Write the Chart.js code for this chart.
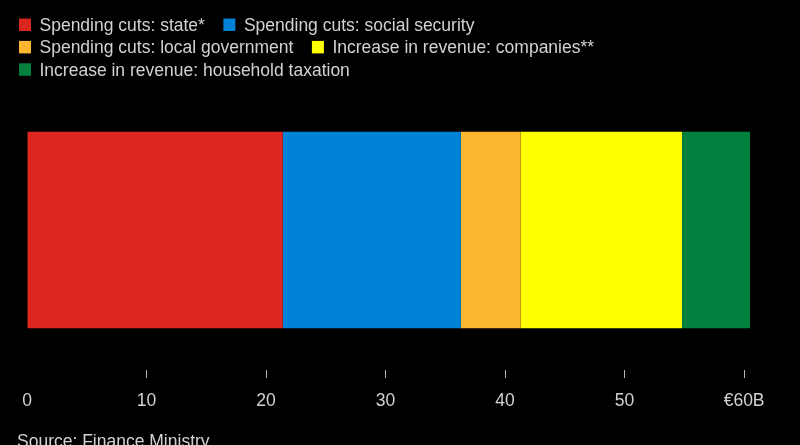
<!DOCTYPE html>
<html>
<head>
<meta charset="utf-8">
<script src="https://cdn.jsdelivr.net/npm/chart.js@4/dist/chart.umd.min.js"></script>
<style>
  html, body { margin: 0; padding: 0; background: #000; }
  #wrap { width: 800px; height: 445px; position: relative; background: #000; }
</style>
</head>
<body>
<div id="wrap"><canvas id="c" width="800" height="445"></canvas></div>
<script>
// ---- data ----
const categories = [''];
const seriesLabels = [
  'Spending cuts: state*',
  'Spending cuts: social security',
  'Spending cuts: local government',
  'Increase in revenue: companies**',
  'Increase in revenue: household taxation'
];
const seriesValues = [21.4, 14.9, 5.0, 13.5, 5.7]; // € billions
const seriesColors = ['#da261e', '#0082d6', '#fbb52f', '#ffff00', '#00813e'];
const tickValues = [0, 10, 20, 30, 40, 50, 60];
const sourceText = 'Source: Finance Ministry';

const FONT = '"Liberation Sans", Arial, sans-serif';
const TEXT_COLOR = '#d2d2d2';

// custom legend (wrapping rows like the original)
const legendPlugin = {
  id: 'customLegend',
  afterDraw(chart) {
    const ctx = chart.ctx;
    ctx.save();
    ctx.font = '17.5px ' + FONT;
    ctx.textBaseline = 'alphabetic';
    ctx.textAlign = 'left';
    const startX = 19, maxRight = 620, boxW = 12, boxH = 12.5, textOff = 20.5, gap = 18.5;
    let x = startX, baseline = 31;
    const rowStep = 22.4;
    chart.data.datasets.forEach((ds, i) => {
      const w = textOff + ctx.measureText(ds.label).width;
      if (i > 0 && x + w > maxRight) { x = startX; baseline += rowStep; }
      ctx.fillStyle = ds.backgroundColor;
      ctx.fillRect(x, baseline - boxH, boxW, boxH);
      ctx.fillStyle = TEXT_COLOR;
      ctx.fillText(ds.label, x + textOff, baseline);
      x += w + gap;
    });
    // source note
    ctx.font = '17.5px ' + FONT;
    ctx.fillStyle = TEXT_COLOR;
    ctx.fillText(sourceText, 17, 446.5);
    ctx.restore();
  }
};

const bgPlugin = {
  id: 'bg',
  beforeDraw(chart) {
    const ctx = chart.ctx;
    ctx.save();
    ctx.fillStyle = '#000';
    ctx.fillRect(0, 0, chart.width, chart.height);
    ctx.restore();
  }
};

new Chart(document.getElementById('c'), {
  type: 'bar',
  data: {
    labels: categories,
    datasets: seriesLabels.map((lab, i) => ({
      label: lab,
      data: [seriesValues[i]],
      backgroundColor: seriesColors[i],
      borderWidth: 0,
      barPercentage: 0.702,
      categoryPercentage: 1
    }))
  },
  options: {
    indexAxis: 'y',
    responsive: false,
    devicePixelRatio: 1,
    animation: false,
    layout: { padding: { top: 90, left: 27, right: 32, bottom: 20 } },
    plugins: {
      legend: { display: false },
      tooltip: { enabled: false },
      title: { display: false }
    },
    scales: {
      x: {
        stacked: true,
        min: 0,
        max: 62,
        afterBuildTicks: (scale) => { scale.ticks = tickValues.map(v => ({ value: v })); },
        border: { display: false },
        grid: {
          drawOnChartArea: false,
          drawTicks: true,
          tickLength: 8,
          tickWidth: 1,
          tickColor: (c) => (c.tick && c.tick.value === 0) ? 'rgba(0,0,0,0)' : '#b5b5b5'
        },
        ticks: {
          color: TEXT_COLOR,
          padding: 13,
          maxRotation: 0,
          autoSkip: false,
          font: { family: FONT, size: 17.5 },
          callback: (v) => v === 60 ? '€60B' : String(v)
        }
      },
      y: {
        stacked: true,
        display: false
      }
    }
  },
  plugins: [bgPlugin, legendPlugin]
});
</script>
</body>
</html>
